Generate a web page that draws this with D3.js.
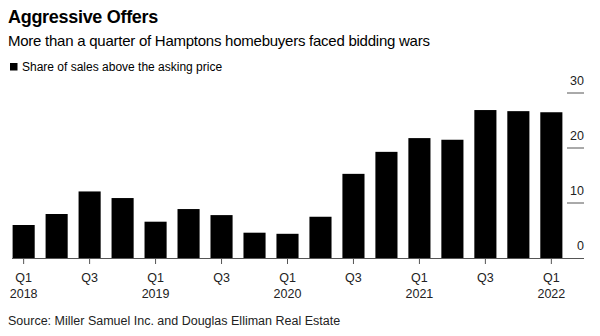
<!DOCTYPE html>
<html>
<head>
<meta charset="utf-8">
<script src="https://cdn.jsdelivr.net/npm/d3@7"></script>
<style>
  body { margin: 0; background: #fff; }
  svg { display: block; font-family: "Liberation Sans", Arial, sans-serif; }
</style>
</head>
<body>
<svg id="svg" width="600" height="336"></svg>
<script>
// quarters Q1 2018 .. Q1 2022
var quarters = ["Q1 2018", "Q2 2018", "Q3 2018", "Q4 2018",
                "Q1 2019", "Q2 2019", "Q3 2019", "Q4 2019",
                "Q1 2020", "Q2 2020", "Q3 2020", "Q4 2020",
                "Q1 2021", "Q2 2021", "Q3 2021", "Q4 2021",
                "Q1 2022"];
var shareAbove = [6.0, 8.0, 12.1, 10.9, 6.6, 8.9, 7.8, 4.6, 4.4,
                  7.5, 15.3, 19.3, 21.8, 21.5, 26.9, 26.7, 26.5];
var yTicks = [0, 10, 20, 30];
var xTickLabels = {
  "Q1 2018": ["Q1", "2018"], "Q3 2018": ["Q3"],
  "Q1 2019": ["Q1", "2019"], "Q3 2019": ["Q3"],
  "Q1 2020": ["Q1", "2020"], "Q3 2020": ["Q3"],
  "Q1 2021": ["Q1", "2021"], "Q3 2021": ["Q3"],
  "Q1 2022": ["Q1", "2022"]
};

var svg = d3.select("#svg");
var margin = {left: 7, right: 44, top: 93, bottom: 78};
var width = 600, height = 336;

var x = d3.scaleBand()
  .domain(quarters)
  .range([margin.left, 568])
  .paddingInner(0.33)
  .paddingOuter(0.17);

var y = d3.scaleLinear()
  .domain([0, 30])
  .range([258, 93]);

// titles
svg.append("text")
    .attr("x", 8).attr("y", 23)
    .attr("font-size", 18).attr("font-weight", "bold")
    .attr("letter-spacing", -0.3)
    .attr("fill", "#000")
    .text("Aggressive Offers");

svg.append("text")
    .attr("x", 8).attr("y", 46)
    .attr("font-size", 15)
    .attr("letter-spacing", -0.25)
    .attr("fill", "#000")
    .text("More than a quarter of Hamptons homebuyers faced bidding wars");

svg.append("rect")
    .attr("x", 10).attr("y", 63).attr("width", 7.5).attr("height", 7.5)
    .attr("fill", "#000");
svg.append("text")
    .attr("x", 22).attr("y", 70.5)
    .attr("font-size", 12)
    .attr("fill", "#000")
    .text("Share of sales above the asking price");

// y axis on the right: short lines with labels above
var yg = svg.append("g").selectAll("g")
  .data(yTicks)
  .join("g")
    .attr("transform", d => "translate(0," + y(d) + ")");
yg.filter(d => d > 0).append("line")
    .attr("x1", 567).attr("x2", 584)
    .attr("stroke", "#555").attr("stroke-width", 1);
yg.append("text")
    .attr("x", 584).attr("y", -8)
    .attr("text-anchor", "end")
    .attr("font-size", 12.5)
    .attr("fill", "#222")
    .text(d => d);

// bars
svg.append("g")
    .attr("fill", "#000")
  .selectAll("rect")
  .data(quarters)
  .join("rect")
    .attr("x", d => x(d))
    .attr("y", (d, i) => y(shareAbove[i]))
    .attr("width", x.bandwidth())
    .attr("height", (d, i) => y(0) - y(shareAbove[i]));

// x axis
svg.append("line")
    .attr("x1", 12).attr("x2", 584)
    .attr("y1", y(0) + 0.5).attr("y2", y(0) + 0.5)
    .attr("stroke", "#555").attr("stroke-width", 1);

var xg = svg.append("g").selectAll("g")
  .data(quarters.filter(q => xTickLabels[q]))
  .join("g")
    .attr("transform", d => "translate(" + (x(d) + x.bandwidth() / 2) + ",0)");
xg.append("line")
    .attr("y1", y(0)).attr("y2", y(0) + 6)
    .attr("stroke", "#555");
xg.selectAll("text")
  .data(d => xTickLabels[d])
  .join("text")
    .attr("y", (d, i) => 282 + i * 16)
    .attr("text-anchor", "middle")
    .attr("font-size", 12.5)
    .attr("fill", "#222")
    .text(d => d);

svg.append("text")
    .attr("x", 8).attr("y", 325)
    .attr("font-size", 12.5)
    .attr("fill", "#222")
    .text("Source: Miller Samuel Inc. and Douglas Elliman Real Estate");
</script>
</body>
</html>
